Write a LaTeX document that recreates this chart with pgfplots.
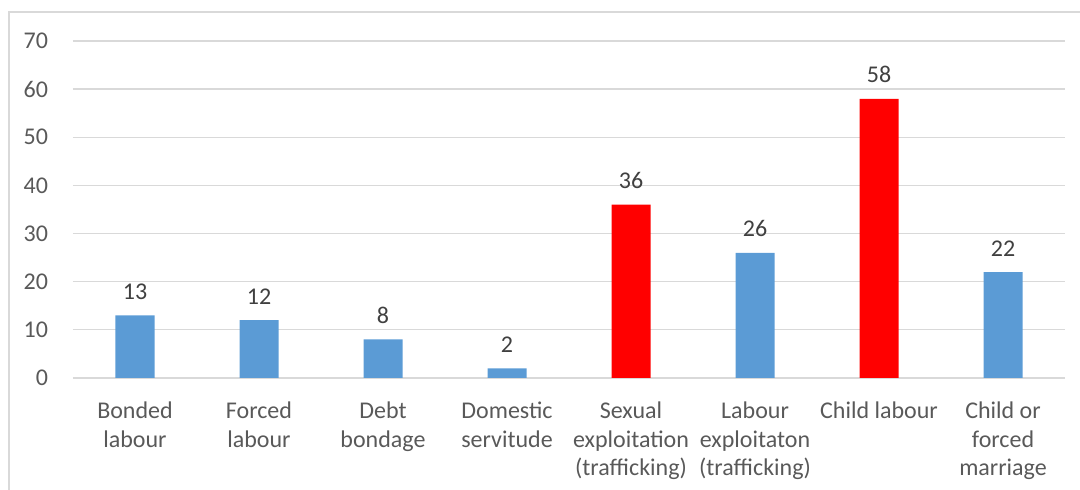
\documentclass[border=0pt]{standalone}
\usepackage{pgfplots}
\pgfplotsset{compat=1.18}
\usepackage{fontspec}
\setmainfont{Carlito}
\definecolor{barblue}{HTML}{5B9BD5}
\definecolor{barred}{HTML}{FF0000}
\definecolor{gridgray}{HTML}{D9D9D9}
\definecolor{ticktext}{HTML}{595959}
\definecolor{valtext}{HTML}{404040}
\begin{document}
\begin{tikzpicture}
\path[use as bounding box] (0,0) rectangle (540pt,245pt);
\draw[gridgray, line width=0.8pt] (4.5pt,-1pt) -- (4.5pt,239pt) -- (541pt,239pt);
\begin{axis}[
  at={(36.5pt,56pt)}, anchor=south west,
  scale only axis, width=496pt, height=168.5pt,
  xmin=-0.5, xmax=7.5, ymin=0, ymax=70,
  ytick={0,10,...,70},
  xtick={0,...,7},
  xticklabels={{Bonded\\labour},{Forced\\labour},{Debt\\bondage},{Domestic\\servitude},{Sexual\\exploitation\\(trafficking)},{Labour\\exploitaton\\(trafficking)},{Child labour},{Child or\\forced\\marriage}},
  x tick label style={align=center, font=\fontsize{12}{14.2}\selectfont, text=ticktext, yshift=-8.5pt},
  y tick label style={font=\fontsize{12}{14.2}\selectfont, text=ticktext, xshift=-9pt},
  /pgf/number format/assume math mode=true,
  axis line style={draw=none},
  major tick length=0pt,
  ymajorgrids, grid style={gridgray, line width=0.65pt},
  ybar, bar width=19.5pt, bar shift=0pt,
  nodes near coords,
  nodes near coords style={font=\fontsize{12}{14.2}\selectfont, text=valtext, yshift=4.5pt},
  clip=false,
]
\addplot[fill=barblue, draw=none] coordinates {(0,13) (1,12) (2,8) (3,2) (5,26) (7,22)};
\addplot[fill=barred, draw=none] coordinates {(4,36) (6,58)};
\end{axis}
\end{tikzpicture}
\end{document}
